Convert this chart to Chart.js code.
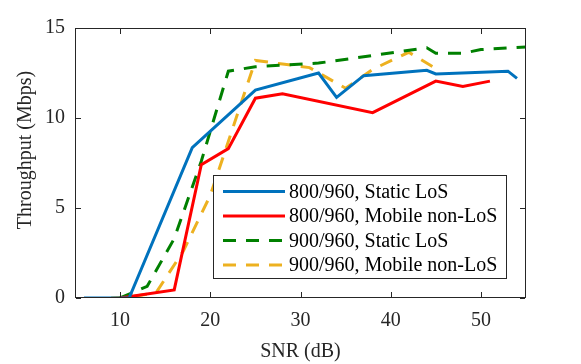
<!DOCTYPE html>
<html lang="en">
  <head>
    <meta charset="UTF-8" />
    <title>Throughput vs SNR</title>
    <style>
      html,
      body {
        margin: 0;
        padding: 0;
        background: #fff;
      }
    </style>
    <script src="https://cdn.jsdelivr.net/npm/chart.js"></script>
  </head>
  <body>
    <canvas id="snrChart" width="581" height="364"></canvas>
    <script>
      // tick values
      var xTicks = [10, 20, 30, 40, 50];
      var yTicks = [0, 5, 10, 15];

      // 800/960, Static LoS
      var snrStatic800 = [6, 11, 18, 25, 32, 34, 37, 44, 45, 53, 54];
      var thrStatic800 = [0, 0, 8.35, 11.55, 12.5, 11.15, 12.35, 12.65, 12.45, 12.6, 12.2];

      // 800/960, Mobile non-LoS
      var snrMobile800 = [10, 16, 19, 22, 25, 28, 38, 45, 48, 51];
      var thrMobile800 = [0, 0.45, 7.4, 8.3, 11.1, 11.35, 10.3, 12.05, 11.75, 12.05];

      // 900/960, Static LoS
      var snrStatic900 = [10, 13, 16, 19, 22, 25, 32, 44, 45, 48, 50, 55];
      var thrStatic900 = [0, 0.65, 3.3, 7.6, 12.6, 12.85, 13.05, 13.9, 13.6, 13.6, 13.8, 13.95];

      // 900/960, Mobile non-LoS
      var snrMobile900 = [9, 11, 14, 17, 20, 25, 28, 31, 35, 38, 42, 45];
      var thrMobile900 = [0, 0.05, 0.3, 2.6, 5.7, 13.2, 13.0, 12.8, 11.65, 12.7, 13.65, 12.75];

      var axisColor = "#262626";
      var fontFamily = "'Liberation Serif', 'Times New Roman', serif";

      function toPoints(xs, ys) {
        return xs.map(function (x, i) {
          return { x: x, y: ys[i] };
        });
      }

      function lineSet(label, xs, ys, color, dash) {
        return {
          label: label,
          data: toPoints(xs, ys),
          borderColor: color,
          backgroundColor: color,
          borderWidth: 3,
          borderDash: dash,
          pointRadius: 0,
          fill: false,
          tension: 0,
        };
      }

      // box with inward ticks, y title and legend
      var framePlugin = {
        id: "frame",
        afterDraw: function (chart) {
          var ctx = chart.ctx;
          var a = chart.chartArea;
          var xs = chart.scales.x;
          var ys = chart.scales.y;
          var l = Math.round(a.left), r = Math.round(a.right);
          var t = Math.round(a.top), b = Math.round(a.bottom);
          ctx.save();
          ctx.setLineDash([]);
          ctx.fillStyle = axisColor;
          // box edges as 1px rects
          ctx.fillRect(l, t, r - l, 1);
          ctx.fillRect(l, b - 1, r - l, 1);
          ctx.fillRect(l, t, 1, b - t);
          ctx.fillRect(r - 1, t, 1, b - t);
          xTicks.forEach(function (v) {
            var px = Math.round(xs.getPixelForValue(v));
            ctx.fillRect(px, b - 6, 1, 5);
            ctx.fillRect(px, t + 1, 1, 5);
          });
          yTicks.forEach(function (v) {
            var py = Math.round(ys.getPixelForValue(v));
            ctx.fillRect(l + 1, py, 5, 1);
            ctx.fillRect(r - 6, py, 5, 1);
          });

          // y title
          ctx.font = "20px " + fontFamily;
          ctx.translate(30.5, 150);
          ctx.rotate(-Math.PI / 2);
          ctx.textAlign = "center";
          ctx.textBaseline = "alphabetic";
          ctx.fillText("Throughput (Mbps)", 0, 0);
          ctx.restore();

          // legend
          ctx.save();
          ctx.setLineDash([]);
          var lx = 213, ly = 175, lw = 294, lh = 104;
          ctx.fillStyle = "#fff";
          ctx.fillRect(lx, ly, lw, lh);
          ctx.fillStyle = axisColor;
          ctx.fillRect(lx, ly, lw, 1);
          ctx.fillRect(lx, ly + lh - 1, lw, 1);
          ctx.fillRect(lx, ly, 1, lh);
          ctx.fillRect(lx + lw - 1, ly, 1, lh);
          ctx.font = "20px " + fontFamily;
          ctx.textBaseline = "middle";
          ctx.textAlign = "left";
          chart.data.datasets.forEach(function (ds, i) {
            var rowY = 191.5 + i * 24.5;
            ctx.strokeStyle = ds.borderColor;
            ctx.lineWidth = ds.borderWidth;
            ctx.setLineDash(ds.borderDash || []);
            ctx.beginPath();
            ctx.moveTo(223, rowY);
            ctx.lineTo(285, rowY);
            ctx.stroke();
            ctx.setLineDash([]);
            ctx.fillStyle = "#000";
            ctx.fillText(ds.label, 289, rowY + 1);
          });
          ctx.restore();
        },
      };

      var snrChart = new Chart(document.getElementById("snrChart").getContext("2d"), {
        type: "line",
        data: {
          datasets: [
            lineSet("800/960, Static LoS", snrStatic800, thrStatic800, "#0072BD", []),
            lineSet("800/960, Mobile non-LoS", snrMobile800, thrMobile800, "#FF0000", []),
            lineSet("900/960, Static LoS", snrStatic900, thrStatic900, "#008000", [13, 10]),
            lineSet("900/960, Mobile non-LoS", snrMobile900, thrMobile900, "#EDB120", [13, 10]),
          ],
        },
        options: {
          responsive: false,
          animation: false,
          layout: { padding: { top: 28, right: 55, left: 0, bottom: 0 } },
          plugins: {
            legend: { display: false },
            tooltip: { enabled: false },
          },
          scales: {
            x: {
              type: "linear",
              min: 5,
              max: 55,
              grid: { display: false, drawTicks: false },
              border: { display: false },
              afterBuildTicks: function (scale) {
                scale.ticks = xTicks.map(function (v) {
                  return { value: v };
                });
              },
              afterFit: function (scale) {
                scale.height = 66;
              },
              ticks: {
                color: axisColor,
                font: { family: fontFamily, size: 20 },
                padding: 11,
                maxRotation: 0,
              },
              title: {
                display: true,
                text: "SNR (dB)",
                color: axisColor,
                font: { family: fontFamily, size: 20 },
                padding: { top: 0, bottom: 0 },
              },
            },
            y: {
              min: 0,
              max: 15,
              grid: { display: false, drawTicks: false },
              border: { display: false },
              afterBuildTicks: function (scale) {
                scale.ticks = yTicks.map(function (v) {
                  return { value: v };
                });
              },
              afterFit: function (scale) {
                scale.width = 75;
              },
              ticks: {
                color: axisColor,
                font: { family: fontFamily, size: 20 },
                padding: 10,
              },
            },
          },
        },
        plugins: [framePlugin],
      });
    </script>
  </body>
</html>
